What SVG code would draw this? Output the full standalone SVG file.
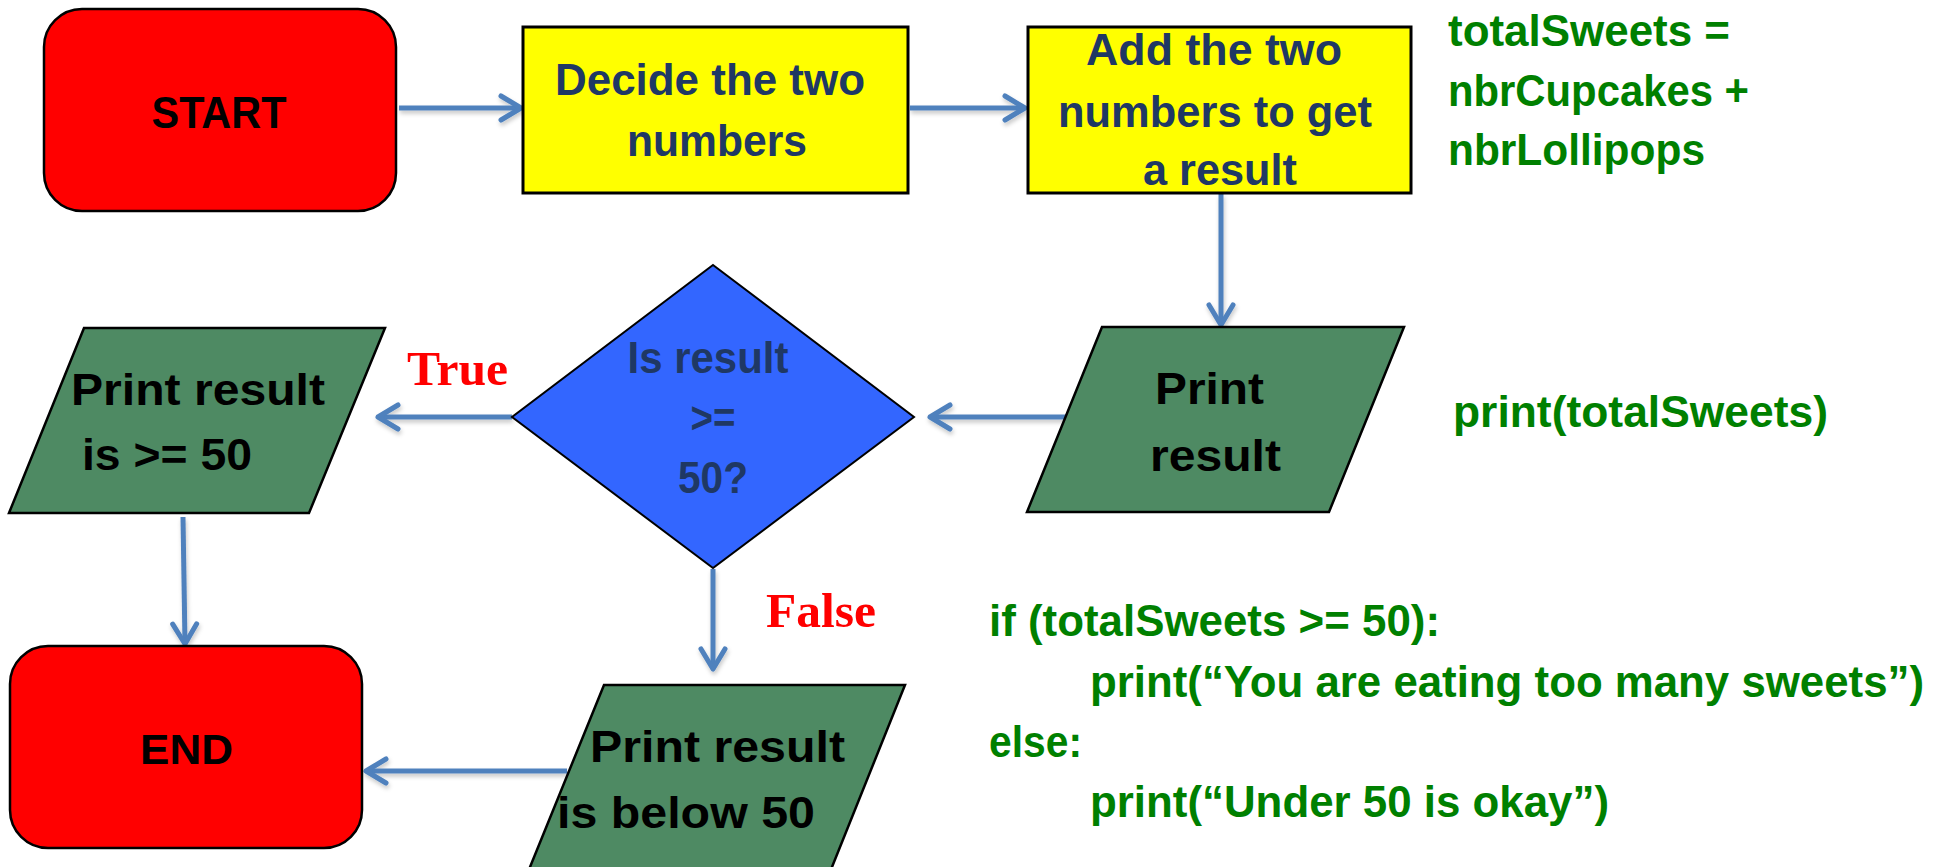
<svg xmlns="http://www.w3.org/2000/svg" width="1948" height="867" viewBox="0 0 1948 867">
  <style>
    .term { fill: #FF0000; stroke: #000; stroke-width: 2.5; }
    .proc { fill: #FFFF00; stroke: #000; stroke-width: 3; }
    .io { fill: #4E8A63; stroke: #000; stroke-width: 2.5; }
    .dec { fill: #3366FF; stroke: #000; stroke-width: 2; }
    text { font-family: "Liberation Sans", Arial, sans-serif; font-weight: bold; font-size: 45px; }
    .black { fill: #000; }
    .navy { fill: #1F3864; }
    .code { fill: #008000; }
    .flag { fill: #FF0000; font-family: "Liberation Serif", "Times New Roman", serif; font-size: 48px; }
    .mid { text-anchor: middle; }
    .link { fill: none; stroke: #4F81BD; stroke-width: 5; marker-end: url(#arrow); }
  </style>
  <defs>
    <marker id="arrow" markerUnits="userSpaceOnUse" markerWidth="40" markerHeight="40" viewBox="-28 -20 36 40" refX="0" refY="0" orient="auto">
      <path d="M -20 -12 L 0 0 L -20 12" fill="none" stroke="#4F81BD" stroke-width="5" stroke-linecap="round" stroke-linejoin="round"/>
    </marker>
    <filter id="lineShadow" filterUnits="userSpaceOnUse" x="0" y="0" width="1948" height="867">
      <feDropShadow dx="1" dy="3" stdDeviation="2" flood-color="#000" flood-opacity="0.22"/>
    </filter>
  </defs>

  <rect width="1948" height="867" fill="#FFFFFF"/>

  <!-- flow connectors -->
  <g id="connectors" filter="url(#lineShadow)">
    <line class="link" x1="399" y1="108" x2="521" y2="108"/>
    <line class="link" x1="910" y1="108" x2="1025" y2="108"/>
    <line class="link" x1="1221" y1="194" x2="1221" y2="325"/>
    <line class="link" x1="1066" y1="417" x2="930" y2="417"/>
    <line class="link" x1="512" y1="417" x2="378" y2="417"/>
    <line class="link" x1="183" y1="517" x2="185" y2="644"/>
    <line class="link" x1="713" y1="569" x2="713" y2="669"/>
    <line class="link" x1="567" y1="771" x2="366" y2="771"/>
  </g>

  <g id="start">
    <rect class="term" x="44" y="9" width="352" height="202" rx="38" ry="38"/>
    <text class="black mid" x="219" y="128" textLength="135" lengthAdjust="spacingAndGlyphs">START</text>
  </g>

  <g id="decide">
    <rect class="proc" x="523" y="27" width="385" height="166"/>
    <text class="navy mid" x="710" y="95" textLength="310" lengthAdjust="spacingAndGlyphs">Decide the two</text>
    <text class="navy mid" x="717" y="156" textLength="180" lengthAdjust="spacingAndGlyphs">numbers</text>
  </g>

  <g id="add">
    <rect class="proc" x="1028" y="27" width="383" height="166"/>
    <text class="navy mid" x="1214" y="65" textLength="256" lengthAdjust="spacingAndGlyphs">Add the two</text>
    <text class="navy mid" x="1215" y="127" textLength="314" lengthAdjust="spacingAndGlyphs">numbers to get</text>
    <text class="navy mid" x="1220" y="185" textLength="154" lengthAdjust="spacingAndGlyphs">a result</text>
  </g>

  <g id="sum-code">
    <text class="code" x="1448" y="46" textLength="282" lengthAdjust="spacingAndGlyphs">totalSweets =</text>
    <text class="code" x="1448" y="106" textLength="301" lengthAdjust="spacingAndGlyphs">nbrCupcakes +</text>
    <text class="code" x="1448" y="165" textLength="257" lengthAdjust="spacingAndGlyphs">nbrLollipops</text>
  </g>

  <g id="print-result">
    <polygon class="io" points="1102,327 1404,327 1329,512 1027,512"/>
    <text class="black" x="1155" y="404" textLength="109" lengthAdjust="spacingAndGlyphs">Print</text>
    <text class="black" x="1150" y="471" textLength="131" lengthAdjust="spacingAndGlyphs">result</text>
  </g>

  <g id="print-code">
    <text class="code" x="1453" y="427" textLength="375" lengthAdjust="spacingAndGlyphs">print(totalSweets)</text>
  </g>

  <g id="check">
    <polygon class="dec" points="713,265 914,417 713,568 512,417"/>
    <text class="navy mid" x="708" y="373" textLength="161" lengthAdjust="spacingAndGlyphs">Is result</text>
    <text class="navy mid" x="713" y="433" textLength="45" lengthAdjust="spacingAndGlyphs">&gt;=</text>
    <text class="navy mid" x="713" y="493" textLength="70" lengthAdjust="spacingAndGlyphs">50?</text>
  </g>

  <g id="label-true">
    <text class="flag" x="407" y="385" textLength="101" lengthAdjust="spacingAndGlyphs">True</text>
  </g>

  <g id="print-high">
    <polygon class="io" points="84,328 385,328 309,513 9,513"/>
    <text class="black" x="71" y="405" textLength="254" lengthAdjust="spacingAndGlyphs">Print result</text>
    <text class="black" x="82" y="470" textLength="170" lengthAdjust="spacingAndGlyphs">is &gt;= 50</text>
  </g>

  <g id="label-false">
    <text class="flag" x="766" y="627" textLength="110" lengthAdjust="spacingAndGlyphs">False</text>
  </g>

  <g id="print-low">
    <polygon class="io" points="604,685 905,685 830,872 528,872"/>
    <text class="black" x="590" y="762" textLength="255" lengthAdjust="spacingAndGlyphs">Print result</text>
    <text class="black" x="557" y="828" textLength="258" lengthAdjust="spacingAndGlyphs">is below 50</text>
  </g>

  <g id="end">
    <rect class="term" x="10" y="646" width="352" height="202" rx="38" ry="38"/>
    <text class="black" x="140" y="764" style="font-size:43px" textLength="93" lengthAdjust="spacingAndGlyphs">END</text>
  </g>

  <g id="branch-code">
    <text class="code" x="989" y="636" textLength="451" lengthAdjust="spacingAndGlyphs">if (totalSweets &gt;= 50):</text>
    <text class="code" x="1090" y="697" textLength="834" lengthAdjust="spacingAndGlyphs">print(“You are eating too many sweets”)</text>
    <text class="code" x="989" y="757" textLength="93" lengthAdjust="spacingAndGlyphs">else:</text>
    <text class="code" x="1090" y="817" textLength="519" lengthAdjust="spacingAndGlyphs">print(“Under 50 is okay”)</text>
  </g>
</svg>
